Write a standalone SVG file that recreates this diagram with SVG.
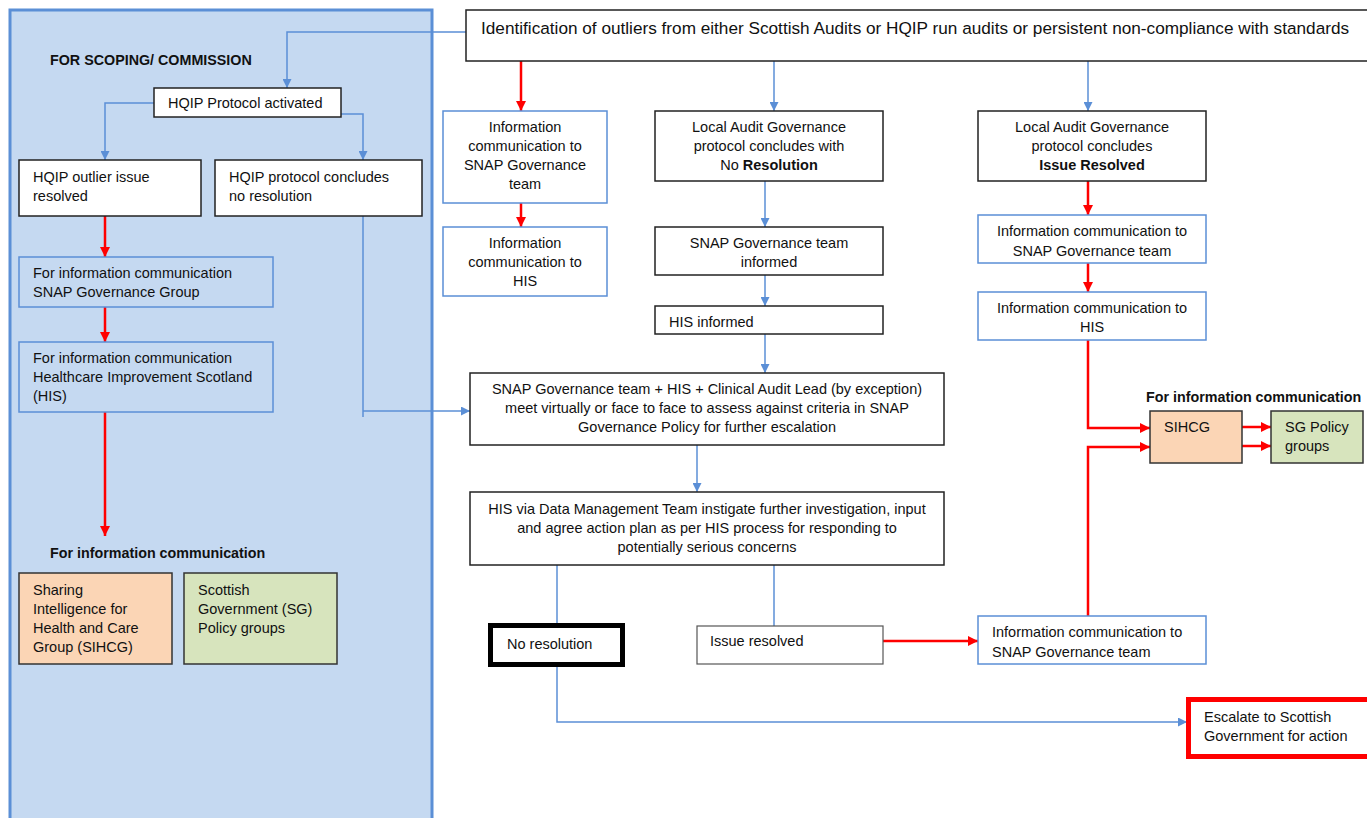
<svg xmlns="http://www.w3.org/2000/svg" width="1367" height="818" viewBox="0 0 1367 818">
<style>
text{font-family:"Liberation Sans",Arial,sans-serif;font-size:14.5px;fill:#111}
.c{text-anchor:middle}
.h{font-weight:bold;font-size:14.3px}
.b{font-weight:bold}
.bx{fill:#fff;stroke:#222;stroke-width:1.5}
.bb{fill:#fff;stroke:#5b8fd6;stroke-width:1.5}
.bt{fill:none;stroke:#5b8fd6;stroke-width:1.5}
.or{fill:#fbd5b5;stroke:#333;stroke-width:1.5}
.gr{fill:#d7e4bd;stroke:#333;stroke-width:1.5}
.lb{fill:none;stroke:#5b8fd6;stroke-width:1.5}
.lr{fill:none;stroke:#ff0000;stroke-width:2.5}
</style>
<defs>
<marker id="ab" viewBox="0 0 10 10" refX="10" refY="5" markerWidth="9" markerHeight="9" markerUnits="userSpaceOnUse" orient="auto"><path d="M0,0 L10,5 L0,10 z" fill="#5b8fd6"/></marker>
<marker id="ar" viewBox="0 0 10 10" refX="10" refY="5" markerWidth="10" markerHeight="10" markerUnits="userSpaceOnUse" orient="auto"><path d="M0,0 L10,5 L0,10 z" fill="#ff0000"/></marker>
</defs>
<rect width="1367" height="818" fill="#fff"/>
<g id="panel">
<rect x="10" y="10" width="422" height="820" fill="#c5d9f1" stroke="#5b8fd6" stroke-width="3"/>
<text x="50" y="65" class="h">FOR SCOPING/ COMMISSION</text>
<text x="50" y="558" class="h">For information communication</text>
</g>
<g id="connectors">
<path class="lb" d="M466,32 H287 V88" marker-end="url(#ab)"/>
<path class="lb" d="M154,103 H105 V160" marker-end="url(#ab)"/>
<path class="lb" d="M341,114 H363 V160" marker-end="url(#ab)"/>
<path class="lr" d="M105,216 V257" marker-end="url(#ar)"/>
<path class="lr" d="M105,307 V342" marker-end="url(#ar)"/>
<path class="lr" d="M105,412 V536" marker-end="url(#ar)"/>
<path class="lb" d="M363,216 V417"/>
<path class="lb" d="M363,411 H470" marker-end="url(#ab)"/>
<path class="lr" d="M521,61 V111" marker-end="url(#ar)"/>
<path class="lr" d="M521,203 V227" marker-end="url(#ar)"/>
<path class="lb" d="M774,61 V111" marker-end="url(#ab)"/>
<path class="lb" d="M765,181 V227" marker-end="url(#ab)"/>
<path class="lb" d="M765,275 V306" marker-end="url(#ab)"/>
<path class="lb" d="M765,334 V373" marker-end="url(#ab)"/>
<path class="lb" d="M697,445 V492" marker-end="url(#ab)"/>
<path class="lb" d="M557,565 V624"/>
<path class="lb" d="M557,666 V722 H1187" marker-end="url(#ab)"/>
<path class="lb" d="M774,565 V626"/>
<path class="lr" d="M883,641 H978" marker-end="url(#ar)"/>
<path class="lr" d="M1088,616 V447 H1150" marker-end="url(#ar)"/>
<path class="lb" d="M1088,61 V111" marker-end="url(#ab)"/>
<path class="lr" d="M1088,181 V215" marker-end="url(#ar)"/>
<path class="lr" d="M1088,263 V292" marker-end="url(#ar)"/>
<path class="lr" d="M1088,340 V428 H1150" marker-end="url(#ar)"/>
<path class="lr" d="M1242,427 H1271" marker-end="url(#ar)"/>
<path class="lr" d="M1242,446 H1271" marker-end="url(#ar)"/>
</g>
<g id="n-top"><rect class="bx" x="466" y="10" width="910" height="51"/><text x="481" y="34" style="font-size:17.2px">Identification of outliers from either Scottish Audits or HQIP run audits or persistent non-compliance with standards</text></g>
<g id="n-hqip"><rect class="bx" x="154" y="88" width="187" height="29"/><text x="168" y="108">HQIP Protocol activated</text></g>
<g id="n-hqip-res"><rect class="bx" x="19" y="160" width="182" height="56"/><text x="33" y="182">HQIP outlier issue</text><text x="33" y="201">resolved</text></g>
<g id="n-hqip-nores"><rect class="bx" x="215" y="160" width="207" height="56"/><text x="229" y="182">HQIP protocol concludes</text><text x="229" y="201">no resolution</text></g>
<g id="n-snapgrp"><rect class="bt" x="19" y="257" width="254" height="50"/><text x="33" y="278">For information communication</text><text x="33" y="297">SNAP Governance Group</text></g>
<g id="n-his-left"><rect class="bt" x="19" y="342" width="254" height="70"/><text x="33" y="363">For information communication</text><text x="33" y="382">Healthcare Improvement Scotland</text><text x="33" y="401">(HIS)</text></g>
<g id="n-sihcg-left"><rect class="or" x="19" y="573" width="153" height="91"/><text x="33" y="595">Sharing</text><text x="33" y="614">Intelligence for</text><text x="33" y="633">Health and Care</text><text x="33" y="652">Group (SIHCG)</text></g>
<g id="n-sg-left"><rect class="gr" x="184" y="573" width="153" height="91"/><text x="198" y="595">Scottish</text><text x="198" y="614">Government (SG)</text><text x="198" y="633">Policy groups</text></g>
<g id="n-info-snap"><rect class="bb" x="443" y="111" width="164" height="92"/><text class="c" x="525" y="132">Information</text><text class="c" x="525" y="151">communication to</text><text class="c" x="525" y="170">SNAP Governance</text><text class="c" x="525" y="189">team</text></g>
<g id="n-info-his"><rect class="bb" x="443" y="227" width="164" height="69"/><text class="c" x="525" y="248">Information</text><text class="c" x="525" y="267">communication to</text><text class="c" x="525" y="286">HIS</text></g>
<g id="n-local-nores"><rect class="bx" x="655" y="111" width="228" height="70"/><text class="c" x="769" y="132">Local Audit Governance</text><text class="c" x="769" y="151">protocol concludes with</text><text class="c" x="769" y="170">No <tspan class="b">Resolution</tspan></text></g>
<g id="n-snap-inf"><rect class="bx" x="655" y="227" width="228" height="48"/><text class="c" x="769" y="248">SNAP Governance team</text><text class="c" x="769" y="267">informed</text></g>
<g id="n-his-inf"><rect class="bx" x="655" y="306" width="228" height="28"/><text x="669" y="327">HIS informed</text></g>
<g id="n-meet"><rect class="bx" x="470" y="373" width="474" height="72"/><text class="c" x="707" y="394">SNAP Governance team + HIS + Clinical Audit Lead (by exception)</text><text class="c" x="707" y="413">meet virtually or face to face to assess against criteria in SNAP</text><text class="c" x="707" y="432">Governance Policy for further escalation</text></g>
<g id="n-dmt"><rect class="bx" x="470" y="492" width="474" height="73"/><text class="c" x="707" y="514">HIS via Data Management Team instigate further investigation, input</text><text class="c" x="707" y="533">and agree action plan as per HIS process for responding to</text><text class="c" x="707" y="552">potentially serious concerns</text></g>
<g id="n-nores"><rect x="490.5" y="625.5" width="132" height="39" fill="#fff" stroke="#000" stroke-width="5"/><text x="507" y="649">No resolution</text></g>
<g id="n-issue-res"><rect x="697" y="626" width="186" height="38" fill="#fff" stroke="#555" stroke-width="1.2"/><text x="710" y="646">Issue resolved</text></g>
<g id="n-info-snap2"><rect class="bb" x="978" y="616" width="228" height="48"/><text x="992" y="637">Information communication to</text><text x="992" y="657">SNAP Governance team</text></g>
<g id="n-local-res"><rect class="bx" x="978" y="111" width="228" height="70"/><text class="c" x="1092" y="132">Local Audit Governance</text><text class="c" x="1092" y="151">protocol concludes</text><text class="c b" x="1092" y="170">Issue Resolved</text></g>
<g id="n-info-snap3"><rect class="bb" x="978" y="215" width="228" height="48"/><text class="c" x="1092" y="236">Information communication to</text><text class="c" x="1092" y="256">SNAP Governance team</text></g>
<g id="n-info-his3"><rect class="bb" x="978" y="292" width="228" height="48"/><text class="c" x="1092" y="313">Information communication to</text><text class="c" x="1092" y="332">HIS</text></g>
<text x="1146" y="402" class="h">For information communication</text>
<g id="n-sihcg"><rect class="or" x="1150" y="411" width="92" height="52"/><text x="1164" y="432">SIHCG</text></g>
<g id="n-sg"><rect class="gr" x="1271" y="411" width="92" height="52"/><text x="1285" y="432">SG Policy</text><text x="1285" y="451">groups</text></g>
<g id="n-escalate"><rect x="1188.5" y="699.5" width="190" height="57" fill="#fff" stroke="#ff0000" stroke-width="5"/><text x="1204" y="722">Escalate to Scottish</text><text x="1204" y="741">Government for action</text></g>
</svg>
